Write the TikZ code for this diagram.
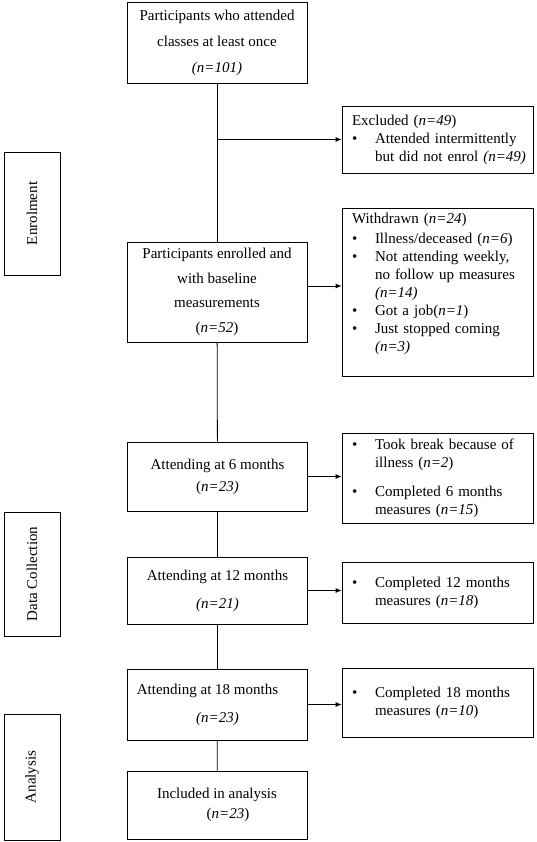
\documentclass[tikz,border=0pt]{standalone}
\usepackage{fontspec}
\setmainfont{Liberation Serif}
\usetikzlibrary{arrows.meta}
\tikzset{
  mainbox/.style={draw, line width=0.8pt, minimum width=180pt, align=center, inner sep=0pt, font=\fontsize{15}{18}\selectfont},
  sidebox/.style={draw, line width=0.8pt, text width=171pt, align=left, inner xsep=10pt, inner ysep=0pt, font=\fontsize{15}{18}\selectfont},
  phasebox/.style={draw, line width=0.8pt, rotate=90, minimum height=56pt, inner sep=0pt, font=\fontsize{15}{18}\selectfont},
  link/.style={line width=0.8pt},
  arrowline/.style={line width=0.8pt, -{Latex[length=6pt,width=5pt]}}
}
\begin{document}
\begin{tikzpicture}[x=1pt,y=-1pt]
\useasboundingbox (0,0) rectangle (536,842);

% phases
\node[phasebox, minimum width=123pt] (enrolment) at (32,213.5) {Enrolment};
\node[phasebox, minimum width=124pt] (datacoll) at (32,574) {Data Collection};
\node[phasebox, minimum width=126pt] (analysis) at (32,777) {Analysis};

% main column
\node[mainbox, minimum height=81pt] (attended) at (217,42.5) {Participants who attended\\[8pt]classes at least once\\[8pt]\textit{(n=101)}};
\node[mainbox, minimum height=100pt] (enrolled) at (217,292) {Participants enrolled and\\[6.5pt]with baseline\\[6.5pt]measurements\\[6.5pt](\textit{n=52})};
\node[mainbox, minimum height=69pt] (month6) at (217.5,476.5) {Attending at 6 months\\[4pt](\textit{n=23)}};
\node[mainbox, minimum height=67pt] (month12) at (217.5,590.5) {Attending at 12 months\\[10pt]\textit{(n=21)}};
\node[mainbox, minimum height=71pt] (month18) at (217.5,704.5) {\hspace*{-20pt}Attending at 18 months\\[10pt]\textit{(n=23)}};
\node[mainbox, minimum height=68pt] (included) at (217,805) {Included in analysis\\[2pt]\hspace*{22pt}(\textit{n=23})};

% side column
\node[sidebox, minimum height=67pt] (excluded) at (437.5,139.5) {\begin{tabular}{@{}p{23pt}@{}l@{}}
\multicolumn{2}{@{}l@{}}{Excluded (\textit{n=49})}\\
\textbullet & Attended intermittently\\
 & but did not enrol \textit{(n=49)}
\end{tabular}};
\node[sidebox, minimum height=168pt] (withdrawn) at (437.5,292) {\parbox[c][168pt][t]{171pt}{\vspace*{3pt}\begin{tabular}{@{}p{23pt}@{}l@{}}
\multicolumn{2}{@{}l@{}}{Withdrawn (\textit{n=24})}\\[2pt]
\textbullet & Illness/deceased (\textit{n=6})\\
\textbullet & Not attending weekly,\\
 & no follow up measures\\
 & \textit{(n=14)}\\
\textbullet & Got a job(\textit{n=1})\\
\textbullet & Just stopped coming\\
 & \textit{(n=3)}
\end{tabular}}};
\node[sidebox, minimum height=90pt] (side6) at (437.5,478) {\begin{tabular}{@{}p{23pt}@{}l@{}}
\textbullet & Took break because of\\
 & illness (\textit{n=2})\\[11pt]
\textbullet & Completed 6 months\\
 & measures (\textit{n=15})
\end{tabular}};
\node[sidebox, minimum height=61pt] (side12) at (437.5,592.5) {\begin{tabular}{@{}p{23pt}@{}l@{}}
\textbullet & Completed 12 months\\
 & measures (\textit{n=18})
\end{tabular}};
\node[sidebox, minimum height=69pt] (side18) at (437.5,702.5) {\begin{tabular}{@{}p{23pt}@{}l@{}}
\textbullet & Completed 18 months\\
 & measures (\textit{n=10})
\end{tabular}};

% connectors
\coordinate (split) at (attended.south |- excluded.west);
\coordinate (enrolout) at ([yshift=6pt]enrolled.east);
\draw[link] (attended) -- (enrolled);
\draw[link] (enrolled) -- (month6);
\draw[link] (month6) -- (month12);
\draw[link] (month12) -- (month18);
\draw[link] (month18) -- (included);
\draw[arrowline] (split) -- (excluded);
\draw[arrowline] (enrolout) -- (enrolout -| withdrawn.west);
\draw[arrowline] (month6.east) -- (month6.east -| side6.west);
\draw[arrowline] (month12.east) -- (month12.east -| side12.west);
\draw[arrowline] (month18.east) -- (month18.east -| side18.west);
\end{tikzpicture}
\end{document}
